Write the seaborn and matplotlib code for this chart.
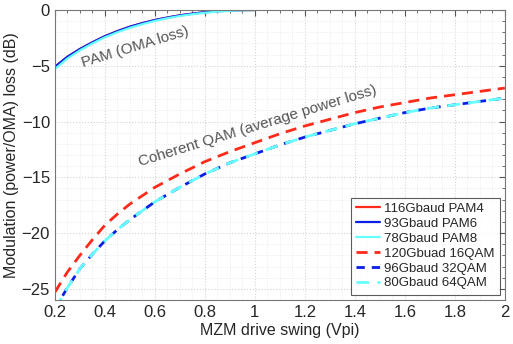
import numpy as np
import pandas as pd
import matplotlib
matplotlib.use("Agg")
import matplotlib.pyplot as plt
import seaborn as sns
from matplotlib.ticker import MultipleLocator

# PAM curves (OMA loss)
pam_swing = [0.2, 0.25, 0.3, 0.35, 0.4, 0.45, 0.5, 0.55, 0.6, 0.65, 0.7, 0.75, 0.8, 0.85, 0.9, 0.95, 1.0]
pam4_loss = [-5.1, -4.2, -3.5, -2.9, -2.35, -1.9, -1.5, -1.18, -0.9, -0.68, -0.48, -0.33, -0.2, -0.11, -0.05, -0.01, 0.0]
pam6_loss = [-5.1, -4.2, -3.5, -2.9, -2.35, -1.9, -1.5, -1.18, -0.9, -0.68, -0.48, -0.33, -0.2, -0.11, -0.05, -0.01, 0.0]
pam8_loss = [-5.3, -4.35, -3.62, -3.0, -2.45, -2.0, -1.6, -1.27, -0.98, -0.74, -0.54, -0.38, -0.25, -0.15, -0.08, -0.03, -0.01]

# coherent QAM curves (average power loss)
qam_swing = [0.2, 0.25, 0.3, 0.35, 0.4, 0.45, 0.5, 0.6, 0.7, 0.8, 0.9, 1.0, 1.1, 1.2, 1.3, 1.4, 1.5, 1.6, 1.7, 1.8, 1.9, 2.0]
qam16_loss = [-25.3, -23.5, -22.0, -20.6, -19.3, -18.3, -17.4, -15.9, -14.7, -13.6, -12.7, -11.9, -11.1, -10.4, -9.8, -9.2, -8.7, -8.3, -7.9, -7.6, -7.3, -7.0]
qam32_loss = [-26.8, -24.9, -23.2, -21.9, -20.7, -19.7, -18.8, -17.2, -15.9, -14.7, -13.7, -12.9, -12.1, -11.4, -10.8, -10.2, -9.7, -9.2, -8.8, -8.5, -8.2, -7.9]
qam64_loss = [-26.8, -24.9, -23.2, -21.9, -20.7, -19.7, -18.8, -17.2, -15.9, -14.7, -13.7, -12.9, -12.1, -11.4, -10.8, -10.2, -9.7, -9.2, -8.8, -8.5, -8.2, -7.9]

labels = ['116Gbaud PAM4', '93Gbaud PAM6', '78Gbaud PAM8',
          '120Gbuad 16QAM', '96Gbaud 32QAM', '80Gbaud 64QAM']

red = '#ff2a1a'
blue = '#0a1ee6'
cyan = '#66ffff'

sns.set_style("white")
plt.rcParams['font.family'] = ['Liberation Sans', 'DejaVu Sans']

fig, ax = plt.subplots(figsize=(5.13, 3.44), dpi=100)
fig.subplots_adjust(left=0.107, right=0.984, top=0.971, bottom=0.128)

series = [
    (pam_swing, pam4_loss, red, None),
    (pam_swing, pam6_loss, blue, None),
    (pam_swing, pam8_loss, cyan, None),
    (qam_swing, qam16_loss, red, (4, 2.5)),
    (qam_swing, qam32_loss, blue, (3, 2.5)),
    (qam_swing, qam64_loss, cyan, (4.5, 3)),
]

for (xs, ys, col, dash), lab in zip(series, labels):
    df = pd.DataFrame({'swing': xs, 'loss': ys})
    sns.lineplot(data=df, x='swing', y='loss', ax=ax, color=col, label=lab,
                 linewidth=2.0 if dash else 1.6)
    if dash:
        ax.lines[-1].set_dashes(dash)

ax.set_xlim(0.2, 2.0)
ax.set_ylim(-26, 0)
ax.xaxis.set_minor_locator(MultipleLocator(0.05))
ax.yaxis.set_major_locator(MultipleLocator(5))
ax.yaxis.set_minor_locator(MultipleLocator(1))
ax.set_xticks(np.arange(0.2, 2.01, 0.2))
ax.set_xticklabels(['0.2', '0.4', '0.6', '0.8', '1', '1.2', '1.4', '1.6', '1.8', '2'])

ax.grid(which='major', color='#d4d4d4', linestyle=':', linewidth=0.8)
ax.grid(which='minor', color='#e6e6e6', linestyle=':', linewidth=0.6)
ax.tick_params(which='both', direction='in', top=True, right=True,
               color='#555555', labelsize=12)
ax.tick_params(which='major', length=4)
ax.tick_params(which='minor', length=2)
for sp in ax.spines.values():
    sp.set_color('#777777')
    sp.set_linewidth(0.8)

ax.set_xlabel('MZM drive swing (Vpi)', fontsize=11.5, labelpad=2)
ax.set_ylabel('Modulation (power/OMA) loss (dB)', fontsize=11.5, labelpad=2)

ax.text(0.52, -3.3, 'PAM (OMA loss)', rotation=17, color='#555555',
        fontsize=11, ha='center', va='center')
ax.text(1.01, -10.4, 'Coherent QAM (average power loss)', rotation=17,
        color='#555555', fontsize=11, ha='center', va='center')

leg = ax.legend(loc='lower right', fontsize=9.5, frameon=True, fancybox=False,
                handlelength=1.8, handletextpad=0.3, borderpad=0.4,
                labelspacing=0.2, borderaxespad=0.4)
leg.get_frame().set_edgecolor('#333333')
leg.get_frame().set_linewidth(0.8)

fig.savefig('out.png', dpi=100)
